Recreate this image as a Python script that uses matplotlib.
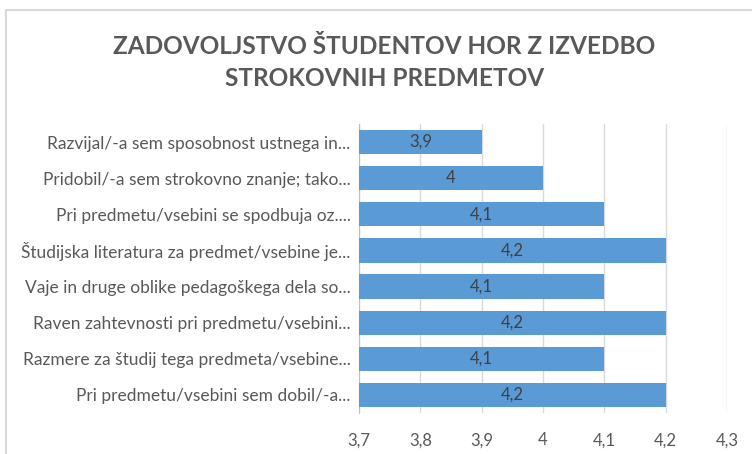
import matplotlib.pyplot as plt
from matplotlib.patches import Rectangle

plt.rcParams['font.family'] = ['Lato', 'DejaVu Sans']

categories = [
    'Razvijal/-a sem sposobnost ustnega in...',
    'Pridobil/-a sem strokovno znanje; tako...',
    'Pri predmetu/vsebini se spodbuja oz....',
    'Študijska literatura za predmet/vsebine je...',
    'Vaje in druge oblike pedagoškega dela so...',
    'Raven zahtevnosti pri predmetu/vsebini...',
    'Razmere za študij tega predmeta/vsebine...',
    'Pri predmetu/vsebini sem dobil/-a...',
]
values = [3.9, 4.0, 4.1, 4.2, 4.1, 4.2, 4.1, 4.2]
ticks = [3.7, 3.8, 3.9, 4.0, 4.1, 4.2, 4.3]

bar_color = '#5B9BD5'
text_color = '#595959'

fig = plt.figure(figsize=(7.52, 4.54), dpi=100)
ax = fig.add_axes([0.4774, 0.0903, 0.4894, 0.6366])

y = list(range(len(categories)))[::-1]
bars = ax.barh(y, [v - 3.7 for v in values], left=3.7, height=0.67,
               color=bar_color, zorder=3)

for b, v in zip(bars, values):
    lbl = f'{v:g}'.replace('.', ',')
    ax.text(b.get_x() + b.get_width() / 2, b.get_y() + b.get_height() / 2, lbl,
            ha='center', va='center', fontsize=12, color='#404040', zorder=4)

ax.set_xlim(3.7, 4.3)
ax.set_ylim(-0.5, len(categories) - 0.5)
ax.set_xticks(ticks)
ax.set_xticklabels([f'{t:g}'.replace('.', ',') for t in ticks])
ax.set_yticks(y)
ax.set_yticklabels(categories)
ax.tick_params(axis='x', length=0, labelsize=12, colors=text_color, pad=14)
ax.tick_params(axis='y', length=0, labelsize=12.5, colors=text_color, pad=6)
ax.grid(axis='x', color='#D9D9D9', lw=1, zorder=0)
for s in ['top', 'right', 'bottom']:
    ax.spines[s].set_visible(False)
ax.spines['left'].set_color('#BFBFBF')

fig.text(0.511, 0.862, 'ZADOVOLJSTVO ŠTUDENTOV HOR Z IZVEDBO\nSTROKOVNIH PREDMETOV',
         ha='center', va='center', fontsize=17.6, fontweight='bold',
         color=text_color, linespacing=1.45)

fig.patches.append(Rectangle((6 / 752, -0.05), 1.0, 1 - 10 / 454 + 0.05,
                             transform=fig.transFigure, fill=False,
                             edgecolor='#D9D9D9', lw=1.5))

fig.savefig('out.png', dpi=100)
